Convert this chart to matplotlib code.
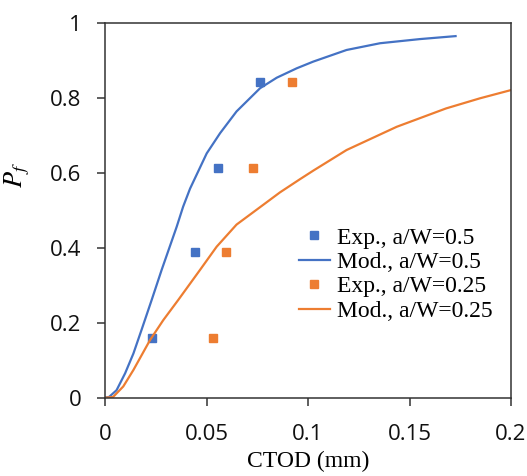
import matplotlib
matplotlib.use('Agg')
import matplotlib.pyplot as plt

# experimental points
exp05_x = [0.023, 0.0445, 0.0558, 0.0764]
exp05_y = [0.16, 0.388, 0.614, 0.842]
exp025_x = [0.053, 0.0596, 0.0727, 0.0923]
exp025_y = [0.16, 0.388, 0.614, 0.842]

# model curves
mod05_x = [0, 0.002, 0.0057, 0.0099, 0.014, 0.018, 0.023, 0.0279, 0.0353, 0.0385,
           0.0419, 0.0501, 0.0567, 0.0648, 0.0764, 0.0846, 0.0944, 0.1026, 0.119,
           0.1355, 0.155, 0.1727]
mod05_y = [0, 0.002, 0.02, 0.065, 0.118, 0.181, 0.261, 0.341, 0.456, 0.51,
           0.558, 0.652, 0.706, 0.764, 0.826, 0.854, 0.879, 0.897, 0.928,
           0.946, 0.957, 0.965]
mod025_x = [0, 0.004, 0.009, 0.014, 0.0222, 0.0287, 0.0361, 0.0468, 0.055, 0.0648,
            0.078, 0.0862, 0.096, 0.1026, 0.119, 0.1437, 0.168, 0.1847, 0.2]
mod025_y = [0, 0.002, 0.03, 0.074, 0.154, 0.207, 0.261, 0.341, 0.403, 0.462,
            0.515, 0.548, 0.583, 0.606, 0.661, 0.723, 0.772, 0.799, 0.821]

blue = '#4472C4'
orange = '#ED7D31'
serif = 'Liberation Serif'

plt.rcParams['mathtext.fontset'] = 'stix'

fig = plt.figure(figsize=(5.27, 4.76), dpi=100)
ax = fig.add_axes([105/527, 1 - 397.7/476, 406/527, 374.7/476])

ax.plot(exp05_x, exp05_y, 's', color=blue, ms=5.5, label='Exp., a/W=0.5')
ax.plot(mod05_x, mod05_y, '-', color=blue, lw=1.6, label='Mod., a/W=0.5')
ax.plot(exp025_x, exp025_y, 's', color=orange, ms=5.5, label='Exp., a/W=0.25')
ax.plot(mod025_x, mod025_y, '-', color=orange, lw=1.6, label='Mod., a/W=0.25')

ax.set_xlim(0, 0.2)
ax.set_ylim(0, 1)
ax.set_xticks([0, 0.05, 0.1, 0.15, 0.2])
ax.set_xticklabels(['0', '0.05', '0.1', '0.15', '0.2'])
ax.set_yticks([0, 0.2, 0.4, 0.6, 0.8, 1])
ax.set_yticklabels(['0', '0.2', '0.4', '0.6', '0.8', '1'])

for sp in ax.spines.values():
    sp.set_color('#333333')
    sp.set_linewidth(1.1)
ax.tick_params(direction='out', length=6, width=1.1, color='#333333',
               labelsize=16, labelcolor='#111111')
ax.tick_params(axis='y', pad=11)
ax.tick_params(axis='x', pad=13)
for lab in ax.get_xticklabels() + ax.get_yticklabels():
    lab.set_fontfamily('Open Sans')

ax.set_xlabel('CTOD (mm)', fontfamily=serif, fontsize=17, labelpad=4)
ax.set_ylabel(r'$P_f$', fontsize=19, rotation=90)
ax.yaxis.set_label_coords(-0.18, 0.594)

leg = ax.legend(loc='upper left', bbox_to_anchor=(0.478, 0.455), frameon=False,
                prop={'family': serif, 'size': 17}, handlelength=1.3,
                handletextpad=0.3, labelspacing=0.12, borderpad=0, borderaxespad=0)

fig.savefig('out.png', dpi=100)
